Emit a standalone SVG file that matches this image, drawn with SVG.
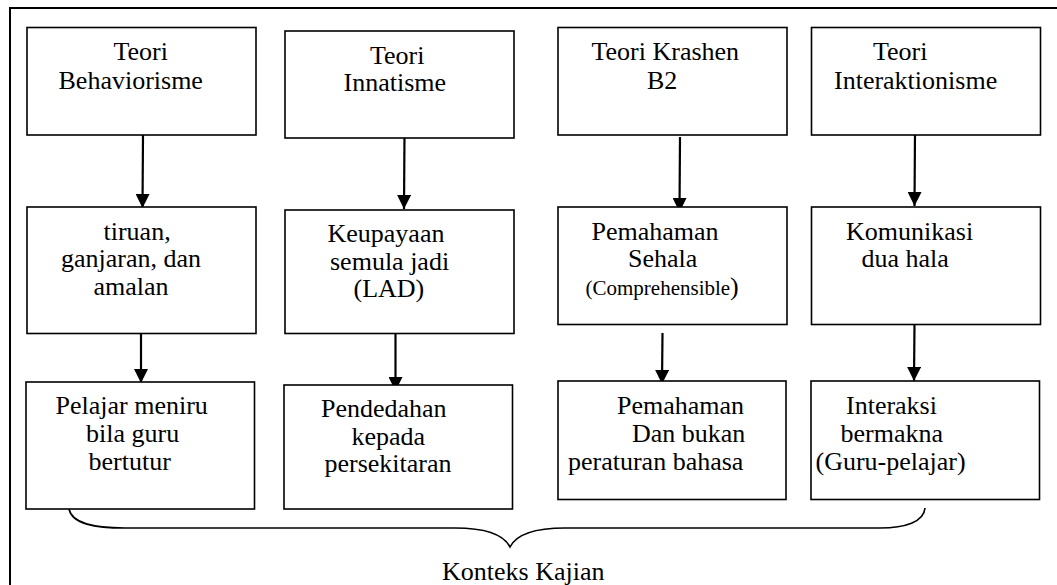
<svg xmlns="http://www.w3.org/2000/svg" width="1057" height="585" viewBox="0 0 1057 585" font-family="Liberation Serif, Times New Roman, serif">
<defs>
<style>
.box{fill:#fff;stroke:#000;stroke-width:1.6}
.t{font-size:26px;fill:#000}
.s{font-size:21px}
.c{stroke:#000;stroke-width:2.2;fill:none}
.br{stroke:#000;stroke-width:1.6;fill:none}
</style>
<marker id="ah" markerWidth="14" markerHeight="14" viewBox="0 0 14 14" refX="14" refY="7" orient="auto" markerUnits="userSpaceOnUse">
<path d="M0,0 L14,7 L0,14 Z" fill="#000"/>
</marker>
</defs>
<rect width="1057" height="585" fill="#fff"/>
<rect x="10" y="8" width="1060" height="600" fill="none" stroke="#000" stroke-width="2"/>

<g id="connectors">
<line class="c" x1="143" y1="135" x2="142.5" y2="208" marker-end="url(#ah)"/>
<line class="c" x1="404.5" y1="134" x2="404" y2="209" marker-end="url(#ah)"/>
<line class="c" x1="680" y1="137" x2="679.5" y2="212" marker-end="url(#ah)"/>
<line class="c" x1="915" y1="131" x2="914.5" y2="206" marker-end="url(#ah)"/>
<line class="c" x1="141" y1="333" x2="141" y2="383" marker-end="url(#ah)"/>
<line class="c" x1="395.5" y1="333" x2="395.5" y2="391" marker-end="url(#ah)"/>
<line class="c" x1="662.5" y1="333" x2="662" y2="384" marker-end="url(#ah)"/>
<line class="c" x1="914.5" y1="324" x2="914" y2="381" marker-end="url(#ah)"/>
<path class="br" d="M69,509 C72,524 95,528 125,528 L455,528 C490,528 505,537 510,547 C515,537 530,528 565,528 L880,528 C905,528 924,522 925,508"/>
</g>

<g id="n1"><rect class="box" x="27" y="27.5" width="229" height="107.5"/>
<text class="t" x="113.5" y="60">Teori</text><text class="t" x="58.5" y="88.5">Behaviorisme</text></g>
<g id="n2"><rect class="box" x="285" y="31" width="229" height="107"/>
<text class="t" x="370" y="63.5">Teori</text><text class="t" x="343.5" y="91">Innatisme</text></g>
<g id="n3"><rect class="box" x="558" y="27.5" width="229" height="107.5"/>
<text class="t" x="591.5" y="60">Teori Krashen</text><text class="t" x="647" y="88.5">B2</text></g>
<g id="n4"><rect class="box" x="811.5" y="27.5" width="229" height="107.5"/>
<text class="t" x="873" y="60">Teori</text><text class="t" x="834" y="88.5">Interaktionisme</text></g>

<g id="n5"><rect class="box" x="27" y="207" width="229" height="126.5"/>
<text class="t" x="103.5" y="239.5">tiruan,</text><text class="t" x="61" y="267">ganjaran, dan</text><text class="t" x="93.5" y="295">amalan</text></g>
<g id="n6"><rect class="box" x="285" y="210" width="229" height="123.5"/>
<text class="t" x="327.5" y="241.5">Keupayaan</text><text class="t" x="330" y="269.5">semula jadi</text><text class="t" x="353.5" y="297">(LAD)</text></g>
<g id="n7"><rect class="box" x="558" y="207" width="229" height="117.5"/>
<text class="t" x="591.5" y="240">Pemahaman</text><text class="t" x="628" y="267">Sehala</text><text class="t s" x="585.5" y="295">(Comprehensible</text><text class="t" x="730" y="295">)</text></g>
<g id="n8"><rect class="box" x="811.5" y="207" width="229" height="117.5"/>
<text class="t" x="846" y="240">Komunikasi</text><text class="t" x="861.5" y="267">dua hala</text></g>

<g id="n9"><rect class="box" x="26" y="382" width="228.5" height="127"/>
<text class="t" x="55.5" y="413.5">Pelajar meniru</text><text class="t" x="86" y="442">bila guru</text><text class="t" x="88.5" y="469.5">bertutur</text></g>
<g id="n10"><rect class="box" x="284" y="385" width="228.5" height="124"/>
<text class="t" x="321" y="417">Pendedahan</text><text class="t" x="351.5" y="444.5">kepada</text><text class="t" x="324.5" y="472">persekitaran</text></g>
<g id="n11"><rect class="box" x="558" y="381" width="228" height="118.5"/>
<text class="t" x="617" y="413.5">Pemahaman</text><text class="t" x="632" y="442">Dan bukan</text><text class="t" x="568" y="470">peraturan bahasa</text></g>
<g id="n12"><rect class="box" x="811" y="381" width="228.5" height="118.5"/>
<text class="t" x="846" y="413.5">Interaksi</text><text class="t" x="840.5" y="442">bermakna</text><text class="t" x="815.5" y="470">(Guru-pelajar)</text></g>

<g id="label"><text class="t" x="442" y="580">Konteks Kajian</text></g>
</svg>
